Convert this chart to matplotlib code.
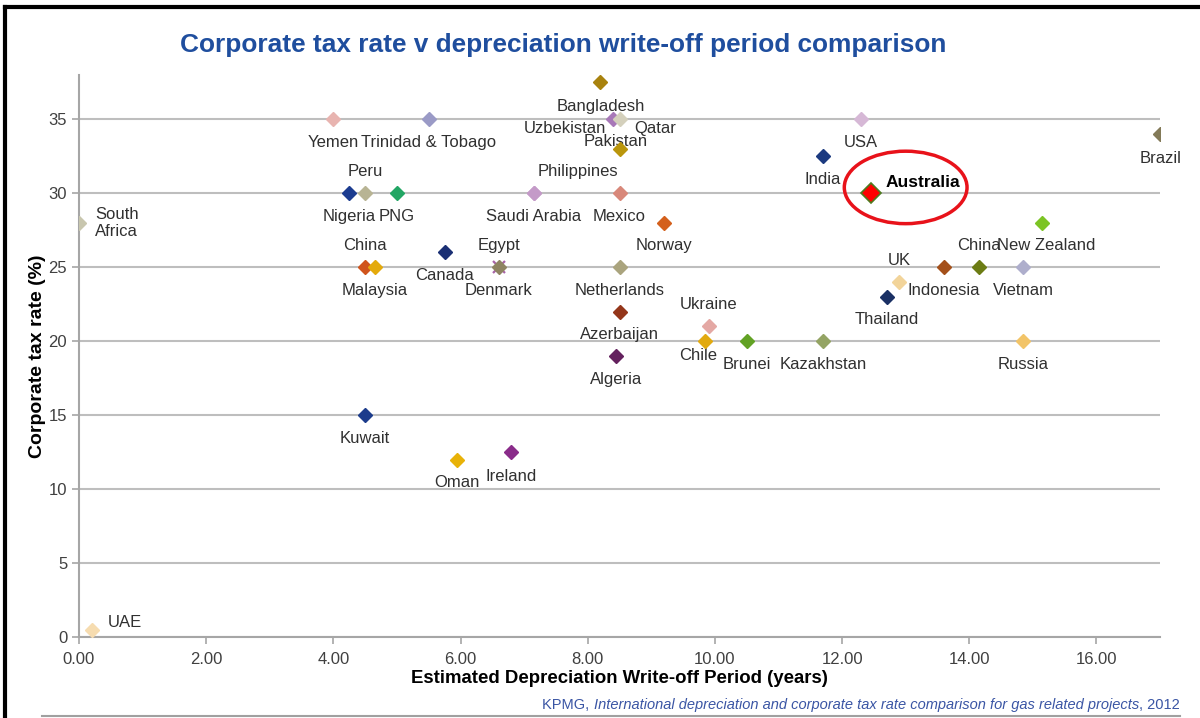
import matplotlib
matplotlib.use('Agg')
import matplotlib.pyplot as plt
from matplotlib.patches import Ellipse
from matplotlib.lines import Line2D

plt.rcParams['font.family'] = ['Liberation Sans', 'DejaVu Sans']

# Country data: write-off period (years) and corporate tax rate (%)
countries = ['Bangladesh', 'Yemen', 'Trinidad & Tobago', 'Uzbekistan', 'Qatar', 'USA',
             'Pakistan', 'Brazil', 'India', 'Nigeria', 'Peru', 'PNG', 'Philippines',
             'Saudi Arabia', 'Mexico', 'South\nAfrica', 'Norway', 'New Zealand', 'Canada',
             'China', 'Malaysia', 'Egypt', 'Denmark', 'Netherlands', 'Indonesia', 'China ',
             'Vietnam', 'UK', 'Thailand', 'Azerbaijan', 'Ukraine', 'Chile', 'Brunei',
             'Kazakhstan', 'Russia', 'Algeria', 'Kuwait', 'Ireland', 'Oman', 'UAE']
periods = [8.2, 4.0, 5.5, 8.4, 8.5, 12.3,
           8.5, 17.0, 11.7, 4.25, 4.5, 5.0, 7.15,
           7.15, 8.5, 0.0, 9.2, 15.15, 5.75,
           4.5, 4.65, 6.6, 6.6, 8.5, 13.6, 14.15,
           14.85, 12.9, 12.7, 8.5, 9.9, 9.85, 10.5,
           11.7, 14.85, 8.45, 4.5, 6.8, 5.95, 0.2]
tax_rates = [37.5, 35, 35, 35, 35, 35,
             33, 34, 32.5, 30, 30, 30, 30,
             30, 30, 28, 28, 28, 26,
             25, 25, 25, 25, 25, 25, 25,
             25, 24, 23, 22, 21, 20, 20,
             20, 20, 19, 15, 12.5, 12, 0.5]
colors = ['#A8820E', '#E8B4B0', '#9A9AC6', '#A878B8', '#D4D0BC', '#D6B8D6',
          '#BA960C', '#837A58', '#1C3A80', '#1C3C90', '#B8B494', '#22A664', '#C49AC8',
          '#C49AC8', '#D8887A', '#C8C6AE', '#D4601C', '#7CC424', '#1A2F74',
          '#D0541C', '#E4AA0C', '#A864A8', '#8E8462', '#AAA47E', '#A4501A', '#6C7C14',
          '#AEAECC', '#F2D49A', '#1A3064', '#94361A', '#E4A8A4', '#E2AA10', '#62A224',
          '#94A464', '#F2C468', '#64215E', '#1C3C8C', '#8A2C8A', '#E8B208', '#F6DCB0']

aus_period = 12.45
aus_rate = 30

# label offsets in pixels (dx, dy); anything not listed sits centred below its marker
below = (0, -23)
above = (0, 22)
label_offsets = {
    'Bangladesh': (0, -24), 'Uzbekistan': (-48, -9), 'Qatar': (36, -9),
    'Pakistan': (-4, 7), 'Brazil': (1, -24), 'Peru': above, 'Philippines': (44, 22),
    'New Zealand': (4, -23), 'China': above, 'China ': above, 'Egypt': above,
    'UK': above, 'Ukraine': above, 'Chile': (-7, -14), 'Ireland': (0, -24),
}
left_labels = {'South\nAfrica': (16, 0), 'UAE': (16, 7)}

fig = plt.figure(figsize=(12, 7.18), dpi=100)
ax = fig.add_axes([0.0658, 0.1128, 0.9009, 0.7827])

ax.set_xlim(0, 17)
ax.set_ylim(0, 38)
ax.set_xticks([0, 2, 4, 6, 8, 10, 12, 14, 16])
ax.set_xticklabels(['%.2f' % t for t in [0, 2, 4, 6, 8, 10, 12, 14, 16]])
ax.set_yticks([0, 5, 10, 15, 20, 25, 30, 35])
ax.yaxis.grid(True, color='#BEBEBE', linewidth=1.5)
ax.set_axisbelow(True)
for side in ['top', 'right']:
    ax.spines[side].set_visible(False)
for side in ['left', 'bottom']:
    ax.spines[side].set_color('#A6A6A6')
    ax.spines[side].set_linewidth(1.5)
ax.tick_params(axis='both', colors='#A6A6A6', labelcolor='#404040', labelsize=12,
               length=5, width=1.2)
ax.tick_params(axis='x', pad=6)

# plot each country marker
for name, px, ry, c in zip(countries, periods, tax_rates, colors):
    if name == 'Egypt':
        ax.plot(px, ry, marker='x', markersize=8, mew=1.6, color=c, zorder=3)
    else:
        ax.plot(px, ry, marker='D', markersize=7, color=c, mec=c, zorder=4)

    if name in left_labels:
        dx, dy = left_labels[name]
        ax.annotate(name, (px, ry), xytext=(dx, dy), textcoords='offset pixels',
                    ha='left', va='center', fontsize=12, color='#303030',
                    linespacing=1.15)
    else:
        dx, dy = label_offsets.get(name, below)
        ax.annotate(name.strip(), (px, ry), xytext=(dx, dy), textcoords='offset pixels',
                    ha='center', va='center', fontsize=12, color='#303030')

# Australia highlighted
ax.plot(aus_period, aus_rate, marker='D', markersize=10, color='#FF0000', mec='#4E7A1E',
        mew=1.2, zorder=5)
ax.annotate('Australia', (aus_period, aus_rate), xytext=(15, 11), textcoords='offset pixels',
            ha='left', va='center', fontsize=12.5, fontweight='bold', color='black')
ax.add_patch(Ellipse((13.0, 30.4), 1.93, 4.9, fill=False, edgecolor='#E8121A',
                     linewidth=2.5, zorder=6))

ax.set_xlabel('Estimated Depreciation Write-off Period (years)', fontsize=13.4,
              fontweight='bold', labelpad=2)
ax.set_ylabel('Corporate tax rate (%)', fontsize=14, fontweight='bold', labelpad=2)

fig.text(0.469, 0.938, 'Corporate tax rate v depreciation write-off period comparison',
         ha='center', va='center', fontsize=18.9, fontweight='bold', color='#1F4E9E')

# source line
src = fig.text(0.983, 0.018, ', 2012', ha='right', va='center', fontsize=10.5, color='#3A55A4')
fig.canvas.draw()
r = fig.canvas.get_renderer()
bb = src.get_window_extent(r)
mid = fig.text(bb.x0 / 1200, 0.018,
               'International depreciation and corporate tax rate comparison for gas related projects',
               ha='right', va='center', fontsize=10.5, style='italic', color='#3A55A4')
bb2 = mid.get_window_extent(r)
fig.text(bb2.x0 / 1200, 0.018, 'KPMG, ', ha='right', va='center', fontsize=10.5, color='#3A55A4')

# frame lines
fig.add_artist(Line2D([0.0045, 0.0045], [0, 0.99], color='black', linewidth=3))
fig.add_artist(Line2D([0.0045, 1.0], [0.99, 0.99], color='black', linewidth=3))
fig.add_artist(Line2D([0.035, 0.983], [0.003, 0.003], color='#A0A0A0', linewidth=1.5))

plt.savefig('out.png', dpi=100)
plt.close()
